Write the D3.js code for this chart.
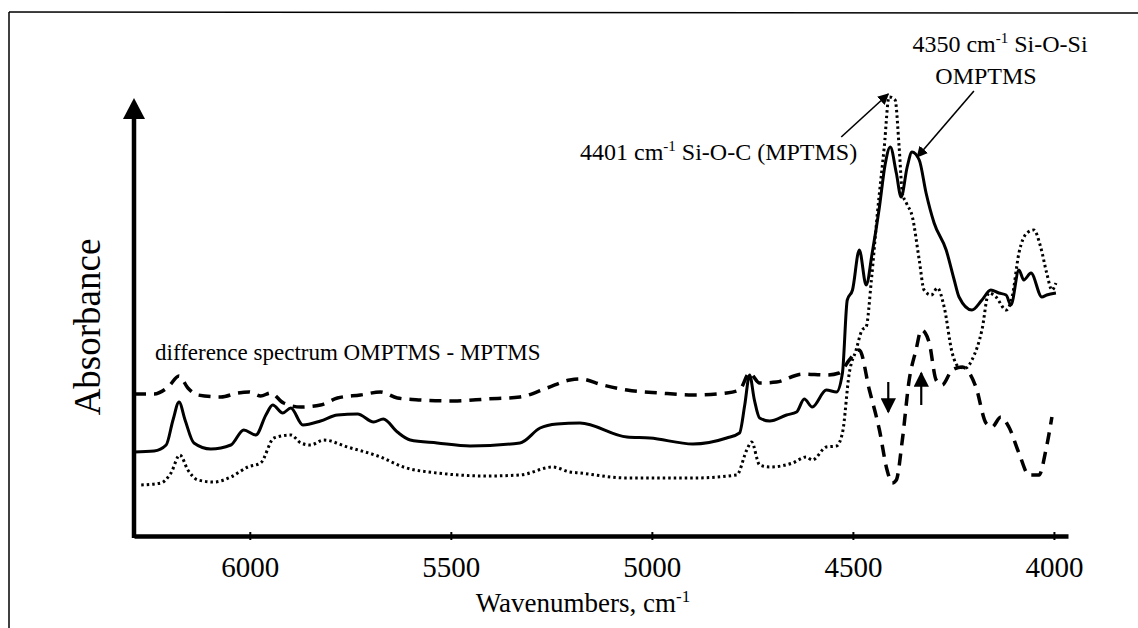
<!DOCTYPE html>
<html>
<head>
<meta charset="utf-8">
<script src="https://cdn.jsdelivr.net/npm/d3@7"></script>
<style>
  body { margin: 0; background: #fff; }
  svg text { font-family: 'Liberation Serif', 'Times New Roman', Times, 'DejaVu Serif', serif; }
</style>
</head>
<body>
<div id="graph"></div>
<script>
// Spectra: [wavenumber cm-1, absorbance a.u.]
const specOMPTMS = [
  [6288, 0.84], [6238, 0.85], [6208, 0.91], [6191, 1.16], [6176, 1.34], [6161, 1.16], [6139, 0.93],
  [6097, 0.87], [6047, 0.91], [6015, 1.06], [5985, 1.01], [5960, 1.21], [5943, 1.31], [5918, 1.23],
  [5898, 1.28], [5868, 1.11], [5824, 1.15], [5782, 1.21], [5732, 1.22], [5692, 1.14], [5668, 1.17],
  [5633, 1.04], [5601, 0.96], [5534, 0.93], [5452, 0.90], [5328, 0.93], [5278, 1.08], [5236, 1.12],
  [5179, 1.13], [5062, 0.99], [5005, 0.98], [4898, 0.92], [4814, 0.98], [4782, 1.03], [4769, 1.31],
  [4757, 1.61], [4745, 1.36], [4732, 1.18], [4707, 1.15], [4665, 1.21], [4640, 1.24], [4621, 1.37],
  [4601, 1.29], [4566, 1.46], [4541, 1.44], [4526, 1.63], [4514, 2.36], [4501, 2.46], [4484, 2.86],
  [4467, 2.51], [4452, 2.83], [4434, 3.29], [4420, 3.71], [4407, 3.89], [4392, 3.63], [4380, 3.39],
  [4365, 3.69], [4353, 3.84], [4335, 3.76], [4318, 3.43], [4298, 3.13], [4268, 2.86], [4248, 2.56],
  [4236, 2.39], [4204, 2.26], [4179, 2.36], [4157, 2.46], [4137, 2.43], [4119, 2.41], [4107, 2.31],
  [4087, 2.66], [4075, 2.56], [4057, 2.63], [4030, 2.39], [4018, 2.41], [3995, 2.43]
];

const specMPTMS = [
  [6270, 0.51], [6221, 0.53], [6196, 0.63], [6174, 0.81], [6154, 0.66], [6129, 0.56], [6089, 0.54],
  [6047, 0.59], [6005, 0.69], [5973, 0.73], [5940, 0.98], [5898, 1.01], [5873, 0.93], [5849, 0.91],
  [5816, 0.96], [5757, 0.89], [5675, 0.79], [5618, 0.69], [5534, 0.63], [5410, 0.60], [5328, 0.61],
  [5246, 0.69], [5204, 0.64], [5179, 0.63], [5062, 0.58], [4898, 0.58], [4789, 0.61], [4764, 0.86],
  [4752, 0.94], [4732, 0.71], [4707, 0.69], [4650, 0.73], [4616, 0.79], [4601, 0.76], [4566, 0.89],
  [4541, 0.90], [4526, 1.03], [4509, 1.63], [4492, 1.86], [4477, 2.06], [4467, 2.09], [4454, 2.56],
  [4439, 3.23], [4422, 3.89], [4410, 4.39], [4395, 4.36], [4385, 3.89], [4377, 3.43], [4367, 3.33],
  [4352, 3.19], [4335, 2.76], [4323, 2.46], [4305, 2.41], [4290, 2.48], [4273, 2.29], [4253, 1.83],
  [4236, 1.69], [4219, 1.68], [4204, 1.76], [4179, 2.06], [4162, 2.43], [4144, 2.39], [4119, 2.26],
  [4104, 2.39], [4087, 2.83], [4067, 3.03], [4050, 3.06], [4033, 2.89], [4018, 2.63], [4005, 2.46],
  [3995, 2.53]
];

const specDiff = [
  [6288, 1.42], [6238, 1.42], [6203, 1.49], [6176, 1.60], [6154, 1.48], [6129, 1.41], [6072, 1.39],
  [6030, 1.43], [6002, 1.44], [5973, 1.40], [5948, 1.43], [5916, 1.33], [5873, 1.29], [5824, 1.31],
  [5782, 1.38], [5725, 1.41], [5675, 1.44], [5633, 1.38], [5576, 1.36], [5494, 1.35], [5410, 1.37],
  [5328, 1.39], [5261, 1.48], [5204, 1.56], [5179, 1.57], [5122, 1.51], [5062, 1.46], [4980, 1.43],
  [4898, 1.41], [4814, 1.43], [4782, 1.46], [4757, 1.63], [4732, 1.53], [4690, 1.54], [4625, 1.62],
  [4566, 1.61], [4534, 1.63], [4509, 1.76], [4484, 1.86], [4459, 1.46], [4434, 1.06], [4415, 0.66],
  [4402, 0.53], [4392, 0.56], [4377, 0.96], [4360, 1.56], [4343, 1.86], [4330, 2.06], [4320, 2.03],
  [4310, 1.93], [4293, 1.56], [4278, 1.51], [4253, 1.66], [4228, 1.69], [4194, 1.49], [4169, 1.13],
  [4154, 1.09], [4132, 1.19], [4112, 1.09], [4087, 0.83], [4062, 0.61], [4037, 0.61], [4020, 0.86],
  [4005, 1.19]
];

const xTicks = [6000, 5500, 5000, 4500, 4000];
const xDomain = [6288, 3965];
const yDomain = [0, 4.38];

//---------------------------------------------------------------------------------------

const width = 1138;
const height = 628;
const serif = "'Liberation Serif', 'Times New Roman', Times, 'DejaVu Serif', serif";

const svg = d3.select('#graph')
  .append('svg')
  .attr('width', width)
  .attr('height', height)
  .attr('font-family', serif);

// cadre (haut + gauche seulement, comme le scan)
svg.append('line').attr('x1', 9).attr('x2', width).attr('y1', 12).attr('y2', 13)
  .attr('stroke', '#000').attr('stroke-width', 1.5);
svg.append('line').attr('x1', 9).attr('x2', 9).attr('y1', 12).attr('y2', height)
  .attr('stroke', '#000').attr('stroke-width', 1.5);

// échelles
const x = d3.scaleLinear().domain(xDomain).range([134, 1068]);
const y = d3.scaleLinear().domain(yDomain).range([536, 98]);

//---------------------------------------------------------------------------------------

// courbes
const line = d3.line()
  .x(d => x(d[0]))
  .y(d => y(d[1]))
  .curve(d3.curveMonotoneX);

svg.append('path')
  .datum(specDiff)
  .attr('d', line)
  .attr('fill', 'none')
  .attr('stroke', '#000')
  .attr('stroke-width', 3.5)
  .attr('stroke-dasharray', '12 8');

svg.append('path')
  .datum(specMPTMS)
  .attr('d', line)
  .attr('fill', 'none')
  .attr('stroke', '#000')
  .attr('stroke-width', 3)
  .attr('stroke-dasharray', '2.5 3');

svg.append('path')
  .datum(specOMPTMS)
  .attr('d', line)
  .attr('fill', 'none')
  .attr('stroke', '#000')
  .attr('stroke-width', 3)
  .attr('stroke-linejoin', 'round');

//---------------------------------------------------------------------------------------

// axes
const xAxis = svg.append('g')
  .attr('transform', `translate(0,${y(0)})`)
  .call(d3.axisBottom(x).tickValues(xTicks).tickFormat(d3.format('d'))
    .tickSize(4).tickSizeOuter(0).tickPadding(16));

xAxis.attr('font-family', serif);
xAxis.select('.domain').attr('stroke-width', 4.5);
xAxis.selectAll('.tick line').attr('y1', -4).attr('stroke-width', 2);
xAxis.selectAll('.tick text')
  .style('font-family', serif)
  .attr('font-size', 29)
  .attr('fill', '#000');

svg.append('line')
  .attr('x1', x(xDomain[0])).attr('x2', x(xDomain[0]))
  .attr('y1', y(0) + 2).attr('y2', y(yDomain[1]) + 18)
  .attr('stroke', '#000').attr('stroke-width', 4.5);

svg.append('path')
  .attr('d', `M${x(xDomain[0])},${y(yDomain[1])} l-11,21 l22,0 Z`)
  .attr('fill', '#000');

svg.append('text')
  .attr('transform', `translate(100,327) rotate(-90)`)
  .attr('text-anchor', 'middle')
  .attr('font-size', 37)
  .text('Absorbance');

const xLabel = svg.append('text')
  .attr('x', 583)
  .attr('y', 612)
  .attr('text-anchor', 'middle')
  .attr('font-size', 27);
xLabel.append('tspan').text('Wavenumbers, cm');
xLabel.append('tspan').attr('dy', -10).attr('font-size', 17).text('-1');

//---------------------------------------------------------------------------------------

// annotations
const defs = svg.append('defs');
defs.append('marker')
  .attr('id', 'head')
  .attr('viewBox', '0 0 10 10')
  .attr('refX', 9).attr('refY', 5)
  .attr('markerWidth', 7).attr('markerHeight', 7)
  .attr('markerUnits', 'strokeWidth')
  .attr('orient', 'auto')
  .append('path').attr('d', 'M0,0 L10,5 L0,10 Z').attr('fill', '#000');

const annot1 = svg.append('text').attr('x', 580).attr('y', 160).attr('font-size', 24);
annot1.append('tspan').text('4401 cm');
annot1.append('tspan').attr('dy', -9).attr('font-size', 15).text('-1');
annot1.append('tspan').attr('dy', 9).text(' Si-O-C (MPTMS)');

const annot2 = svg.append('text').attr('x', 1000).attr('y', 52).attr('font-size', 24).attr('text-anchor', 'middle');
annot2.append('tspan').text('4350 cm');
annot2.append('tspan').attr('dy', -9).attr('font-size', 15).text('-1');
annot2.append('tspan').attr('dy', 9).text(' Si-O-Si');

svg.append('text').attr('x', 986).attr('y', 84).attr('font-size', 24).attr('text-anchor', 'middle').text('OMPTMS');

svg.append('text').attr('x', 155).attr('y', 360).attr('font-size', 23)
  .text('difference spectrum OMPTMS - MPTMS');

// flèches fines vers les pics
svg.append('line')
  .attr('x1', x(4529)).attr('y1', y(3.99))
  .attr('x2', x(4412)).attr('y2', y(4.42))
  .attr('stroke', '#000').attr('stroke-width', 1.6)
  .attr('marker-end', 'url(#head)');

svg.append('line')
  .attr('x1', x(4199)).attr('y1', y(4.45))
  .attr('x2', x(4340)).attr('y2', y(3.79))
  .attr('stroke', '#000').attr('stroke-width', 1.6)
  .attr('marker-end', 'url(#head)');

// petites flèches dans le spectre de différence
svg.append('line')
  .attr('x1', x(4412)).attr('y1', y(1.54))
  .attr('x2', x(4412)).attr('y2', y(1.24))
  .attr('stroke', '#000').attr('stroke-width', 2.2)
  .attr('marker-end', 'url(#head)');

svg.append('line')
  .attr('x1', x(4330)).attr('y1', y(1.31))
  .attr('x2', x(4330)).attr('y2', y(1.63))
  .attr('stroke', '#000').attr('stroke-width', 2.2)
  .attr('marker-end', 'url(#head)');
</script>
</body>
</html>
